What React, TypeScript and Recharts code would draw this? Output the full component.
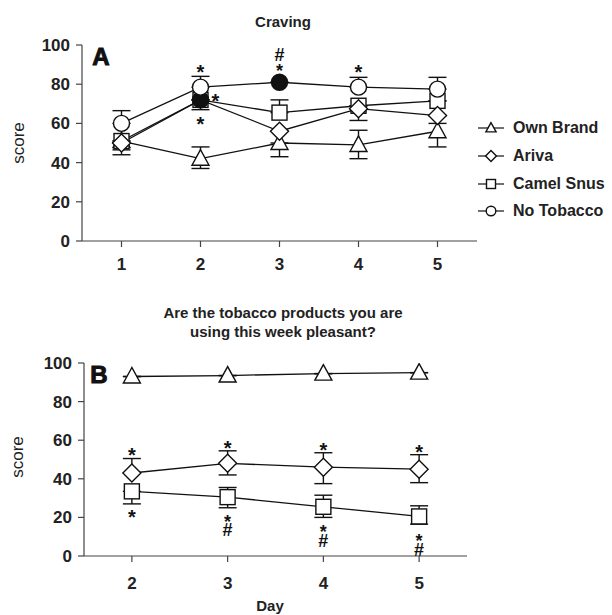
import React from 'react';
import { ComposedChart, Line, XAxis, YAxis, ErrorBar, ReferenceDot } from 'recharts';

const FONT = '"Liberation Sans", Arial, Helvetica, sans-serif';
const INK = '#111';
const AXIS = '#444';

// ---- series meta ----
const seriesNames = ['Own Brand', 'Ariva', 'Camel Snus', 'No Tobacco'];
const seriesShapes = ['triangle', 'diamond', 'square', 'circle'];
const yTicks = [0, 20, 40, 60, 80, 100];

// ---- Panel A : Craving ----
const daysA = [1, 2, 3, 4, 5];
const ownBrandA = [51, 42, 50, 49, 56];
const arivaA = [50, 72, 56, 67.5, 64];
const camelA = [51, 72, 65.5, 69, 71.5];
const noTobaccoA = [60, 78.5, 81, 78.5, 77.5];
// [down, up]
const ownBrandErrA = [[7, 0], [5, 6], [7, 0], [7, 7.5], [8, 4]];
const arivaErrA = [[0, 0], [5, 0], [0, 0], [6, 0], [0, 0]];
const camelErrA = [[4.5, 0], [0, 0], [0, 6.5], [0, 0], [0, 0]];
const noTobaccoErrA = [[0, 6.5], [0, 5.5], [0, 0], [0, 5], [0, 6]];
const arivaFilledA = [false, true, false, false, false];
const noTobaccoFilledA = [false, false, true, false, false];
// significance marks, stacked top to bottom; value = centre of the top mark
const annotDayA = [2, 2.19, 2, 3, 4];
const annotValA = [88.3, 73.5, 62.2, 94.9, 88.3];
const annotTextA = ['*', '*', '*', '#*', '*'];

// ---- Panel B : pleasantness ----
const daysB = [2, 3, 4, 5];
const ownBrandB = [93, 93.5, 94.5, 95];
const arivaB = [43, 48, 46, 45];
const camelB = [33.5, 30.5, 25.5, 20.5];
const ownBrandErrB = [[0, 0], [0, 0], [0, 0], [0, 0]];
const arivaErrB = [[0, 7.5], [6, 6.5], [8.5, 7.5], [7, 7.5]];
const camelErrB = [[6.5, 0], [5.5, 5], [5.5, 6], [4, 5.5]];
const annotDayB = [2, 2, 3, 3, 4, 4, 5, 5];
const annotValB = [54.9, 22.3, 58.5, 19.7, 57.5, 14.5, 56, 9.8];
const annotTextB = ['*', '*', '*', '*#', '*', '*#', '*', '*#'];

const dataA = daysA.map((d, i) => ({
  day: d,
  s0: ownBrandA[i], s1: arivaA[i], s2: camelA[i], s3: noTobaccoA[i],
  e0: ownBrandErrA[i], e1: arivaErrA[i], e2: camelErrA[i], e3: noTobaccoErrA[i],
  f0: false, f1: arivaFilledA[i], f2: false, f3: noTobaccoFilledA[i],
}));

const dataB = daysB.map((d, i) => ({
  day: d,
  s0: ownBrandB[i], s1: arivaB[i], s2: camelB[i],
  e0: ownBrandErrB[i], e1: arivaErrB[i], e2: camelErrB[i],
  f0: false, f1: false, f2: false,
}));

function markerPath(shape: string, cx: number, cy: number, k: number, filled: boolean, key?: any) {
  const sw = 1.4;
  if (filled) {
    return <circle key={key} cx={cx} cy={cy} r={8 * k} fill={INK} stroke={INK} strokeWidth={sw} />;
  }
  const common = { fill: '#fff', stroke: INK, strokeWidth: sw };
  if (shape === 'triangle') {
    const pts = `${cx},${cy - 9 * k} ${cx - 8.5 * k},${cy + 6.5 * k} ${cx + 8.5 * k},${cy + 6.5 * k}`;
    return <polygon key={key} points={pts} {...common} />;
  }
  if (shape === 'diamond') {
    const pts = `${cx},${cy - 9 * k} ${cx + 9 * k},${cy} ${cx},${cy + 9 * k} ${cx - 9 * k},${cy}`;
    return <polygon key={key} points={pts} {...common} />;
  }
  if (shape === 'square') {
    return <rect key={key} x={cx - 7.5 * k} y={cy - 7.5 * k} width={15 * k} height={15 * k} {...common} />;
  }
  return <circle key={key} cx={cx} cy={cy} r={8 * k} {...common} />;
}

const makeDot = (idx: number) => (props: any) => {
  const { cx, cy, payload, index } = props;
  if (cx == null || cy == null) return <g key={`d${idx}-${index}`} />;
  return markerPath(seriesShapes[idx], cx, cy, 1, !!payload[`f${idx}`], `d${idx}-${index}`);
};

const annotShape = (text: string) => (p: any) => {
  if (text.length === 1) {
    const isStar = text === '*';
    return (
      <text x={p.cx} y={p.cy + (isStar ? 11.5 : 6)} textAnchor="middle" fontFamily={FONT} fontWeight="bold"
        fontSize={isStar ? 20 : 17} fill={INK}>{text}</text>
    );
  }
  // stacked marks as one vertical text run
  const starFirst = text[0] === '*';
  return (
    <text x={p.cx} y={p.cy - (starFirst ? 6 : 10)} fontFamily={FONT} fontWeight="bold" fontSize={18} fill={INK}
      style={{ writingMode: 'vertical-rl', textOrientation: 'upright', letterSpacing: starFirst ? -11.5 : -3.5 } as any}>
      {text}
    </text>
  );
};

const tickStyle = { fill: '#222', fontSize: 17, fontWeight: 'bold', fontFamily: FONT };

function Panel({ data, n, days, domain, width, height, margin, xTickMargin, xHeight, aDays, aVals, aTexts }: any) {
  const order = n === 4 ? [0, 2, 1, 3] : [0, 2, 1];
  return (
    <ComposedChart width={width} height={height} data={data} margin={margin}>
      <XAxis
        dataKey="day" type="number" domain={domain} ticks={days} allowDataOverflow
        tickSize={6} tickMargin={xTickMargin} height={xHeight}
        axisLine={{ stroke: AXIS, strokeWidth: 1.2 }} tickLine={{ stroke: AXIS, strokeWidth: 1.2 }}
        tick={tickStyle}
      />
      <YAxis
        type="number" domain={[0, 100]} ticks={yTicks} allowDataOverflow width={60}
        tickSize={6} tickMargin={6}
        axisLine={{ stroke: AXIS, strokeWidth: 1.2 }} tickLine={{ stroke: AXIS, strokeWidth: 1.2 }}
        tick={tickStyle}
      />
      {order.map((i) => (
        <Line key={`l${i}`} dataKey={`s${i}`} stroke={INK} strokeWidth={1.3} dot={false} activeDot={false}
          isAnimationActive={false} legendType="none">
          <ErrorBar dataKey={`e${i}`} width={9} stroke={INK} strokeWidth={1.4} direction="y" />
        </Line>
      ))}
      {order.map((i) => (
        <Line key={`m${i}`} dataKey={`s${i}`} stroke="none" dot={makeDot(i)} activeDot={false}
          isAnimationActive={false} legendType="none" />
      ))}
      {aDays.map((d: number, j: number) => (
        <ReferenceDot key={`a${j}`} x={d} y={aVals[j]} r={0} ifOverflow="visible" shape={annotShape(aTexts[j])} />
      ))}
    </ComposedChart>
  );
}

function LegendBox() {
  const rows = [128, 156, 184, 211];
  return (
    <>
      {seriesNames.map((name, i) => (
        <div key={name} style={{ position: 'absolute', left: 476, top: rows[i] - 11, height: 22, display: 'flex', alignItems: 'center' }}>
          <svg width={30} height={22}>
            <line x1={2} y1={11} x2={28} y2={11} stroke={INK} strokeWidth={1.2} />
            {markerPath(seriesShapes[i], 15, 11, 0.6, false)}
          </svg>
          <span style={{ marginLeft: 7, fontFamily: FONT, fontWeight: 'bold', fontSize: 16, color: '#222', whiteSpace: 'nowrap' }}>{name}</span>
        </div>
      ))}
    </>
  );
}

const textDiv = (cx: number, cy: number, w: number, lh: number, style: any): any => ({
  position: 'absolute', left: cx - w / 2, top: cy - lh / 2, width: w, height: lh, lineHeight: `${lh}px`,
  textAlign: 'center', fontFamily: FONT, color: '#222', whiteSpace: 'nowrap', ...style,
});

export default function App() {
  return (
    <div style={{ position: 'absolute', left: 0, top: 0, width: 612, height: 615, background: '#fff', overflow: 'hidden' }}>
      <div style={{ position: 'absolute', left: 0, top: 0 }}>
        <Panel data={dataA} n={4} days={daysA} domain={[0.5, 5.5]} width={612} height={300}
          margin={{ top: 45, right: 135, left: 22, bottom: 29 }} xTickMargin={11} xHeight={30}
          aDays={annotDayA} aVals={annotValA} aTexts={annotTextA} />
      </div>
      <div style={{ position: 'absolute', left: 0, top: 300 }}>
        <Panel data={dataB} n={3} days={daysB} domain={[1.5, 5.5]} width={612} height={315}
          margin={{ top: 63, right: 145, left: 24, bottom: 24 }} xTickMargin={15} xHeight={35}
          aDays={annotDayB} aVals={annotValB} aTexts={annotTextB} />
      </div>
      <LegendBox />
      <div style={textDiv(283, 22, 200, 20, { fontWeight: 'bold', fontSize: 15 })}>Craving</div>
      <div style={textDiv(283, 312, 340, 19, { fontWeight: 'bold', fontSize: 15 })}>Are the tobacco products you are</div>
      <div style={textDiv(283, 331, 340, 19, { fontWeight: 'bold', fontSize: 15 })}>using this week pleasant?</div>
      <div style={textDiv(101, 57, 40, 26, { fontWeight: 900, fontSize: 24, WebkitTextStroke: '1px #111', color: '#111' })}>A</div>
      <div style={textDiv(99, 375, 40, 26, { fontWeight: 900, fontSize: 24, WebkitTextStroke: '1px #111', color: '#111' })}>B</div>
      <div style={textDiv(270, 606, 80, 18, { fontWeight: 'bold', fontSize: 15 })}>Day</div>
      <div style={{ ...textDiv(19, 143, 100, 20, { fontSize: 17 }), transform: 'rotate(-90deg)' }}>score</div>
      <div style={{ ...textDiv(18, 457, 100, 20, { fontSize: 17 }), transform: 'rotate(-90deg)' }}>score</div>
    </div>
  );
}
